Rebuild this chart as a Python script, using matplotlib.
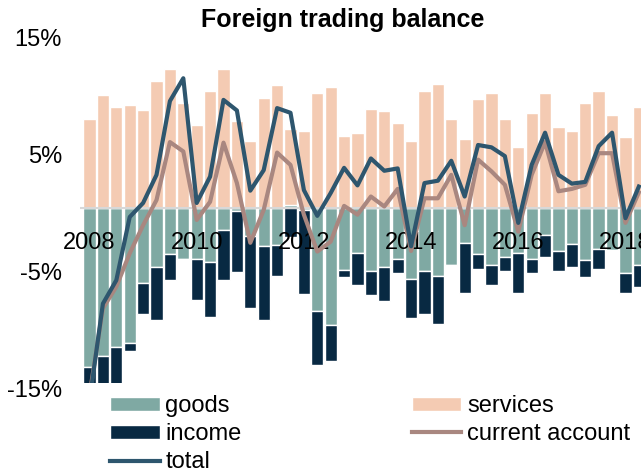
import numpy as np
import matplotlib
matplotlib.use("Agg")
import matplotlib.pyplot as plt
from matplotlib.transforms import ScaledTranslation

plt.rcParams["font.family"] = ["Liberation Sans", "DejaVu Sans"]

# quarterly values, 2008 Q1 onwards (% of GDP)
goods = [-13.6, -12.7, -11.9, -11.6, -6.4, -5.1, -4.0, -4.4, -4.4, -4.6,
         -1.9, -0.3, -2.4, -3.3, -3.2, 0.2, -0.2, -8.8, -10.0, -5.3,
         -3.9, -5.4, -5.1, -4.4, -6.1, -5.4, -5.8, -4.9, -3.0, -4.0,
         -4.9, -4.2, -3.9, -4.4, -2.3, -3.7, -3.1, -4.5, -3.5, -3.6,
         -5.6, -4.9]
income = [-10.0, -5.5, -3.4, -0.6, -2.7, -4.5, -2.2, 0.0, -3.5, -4.7,
          -4.3, -5.2, -6.2, -6.3, -2.6, -2.5, -7.2, -4.6, -3.1, -0.6,
          -2.7, -2.05, -2.85, -1.2, -3.3, -3.65, -4.1, 0.0, -4.3, -1.2,
          -1.7, -1.2, -3.4, -1.2, -1.9, -1.7, -2.0, -1.4, -1.7, 0.0,
          -1.7, -1.85]
services = [7.55, 9.6, 8.6, 8.8, 8.3, 10.85, 11.8, 8.9, 7.1, 10.0,
            11.8, 7.4, 5.7, 9.4, 10.5, 6.5, 6.55, 9.8, 10.3, 6.15,
            6.35, 8.4, 8.25, 7.2, 5.7, 9.95, 10.6, 7.55, 5.85, 9.25,
            9.8, 7.55, 5.15, 8.05, 9.8, 6.9, 6.55, 8.9, 9.95, 7.9,
            6.0, 8.6]
current = [-16.0, -8.6, -6.75, -3.9, -1.5, 0.65, 5.6, 4.8, -1.05, 0.5,
           5.55, 2.1, -3.0, -0.2, 4.7, 3.65, -0.6, -3.75, -2.9, 0.15,
           -0.6, 0.95, 0.1, 1.6, -3.7, 0.8, 0.8, 2.8, -1.5, 4.1,
           3.1, 1.95, -2.05, 2.8, 5.6, 1.4, 1.6, 1.95, 4.65, 4.65,
           -1.3, 1.3]
total = [-16.5, -8.2, -6.2, -0.8, 0.4, 2.8, 9.1, 11.05, 0.4, 2.65,
         9.2, 8.3, 1.45, 3.2, 8.5, 8.1, 1.5, -0.7, 1.25, 3.4,
         1.9, 4.2, 3.15, 3.35, -3.3, 2.1, 2.3, 4.0, 0.95, 5.35,
         5.15, 4.4, -1.3, 3.65, 6.4, 2.8, 2.05, 2.2, 5.25, 6.4,
         -0.9, 1.8]
years = ["2008", "2010", "2012", "2014", "2016", "2018"]

c_goods = "#7fa9a3"
c_income = "#082942"
c_services = "#f4cbb3"
c_current = "#a98780"
c_total = "#2e566e"

x = np.arange(len(goods))
g = np.array(goods)
inc_bottom = np.minimum(g, 0)
srv_bottom = np.maximum(g, 0)

fig = plt.figure(figsize=(6.41, 4.76), dpi=100)
ax = fig.add_axes([80 / 641, 1 - 383.3 / 476, 561 / 641, (383.3 - 32) / 476])

w = 0.92
ax.bar(x, goods, width=w, color=c_goods, edgecolor="white", linewidth=1, label="goods")
ax.bar(x, services, width=w, bottom=srv_bottom, color=c_services, edgecolor="white",
       linewidth=1, label="services")
ax.bar(x, income, width=w, bottom=inc_bottom, color=c_income, edgecolor="white",
       linewidth=1, label="income")
ax.axhline(0, color="#d8d8d8", lw=1.5, zorder=3)

for i, yr in enumerate(years):
    ax.text(i * 8, -3, yr, ha="center", va="center", fontsize=17, zorder=4)

ax.plot(x, current, color=c_current, lw=3, zorder=5, label="current account")
ax.plot(x, total, color=c_total, lw=3, zorder=6, label="total")

ax.set_xlim(-0.71, 41.16)
ax.set_ylim(-15, 15)
ax.set_yticks([15, 5, -5, -15])
ax.set_yticklabels(["15%", "5%", "-5%", "-15%"], fontsize=17)
ax.tick_params(axis="y", length=0, pad=13)
ax.set_xticks([])
for lab in ax.get_yticklabels():
    lab.set_transform(lab.get_transform() + ScaledTranslation(0, -4 / 72, fig.dpi_scale_trans))
for s in ax.spines.values():
    s.set_visible(False)

fig.text(343 / 641, 1 - 20 / 476, "Foreign trading balance", ha="center", va="center",
         fontsize=18, fontweight="bold")

h, l = ax.get_legend_handles_labels()
order = ["goods", "income", "total", "services", "current account"]
hd = dict(zip(l, h))
fig.legend([hd[k] for k in order], order, loc="upper left",
           bbox_to_anchor=(110 / 641, 1 - 395 / 476), ncol=2, frameon=False,
           fontsize=17, handlelength=2.1, handleheight=0.55, handletextpad=0.25,
           labelspacing=0.26, columnspacing=7.2, borderpad=0, borderaxespad=0)

fig.savefig("out.png", dpi=100)
